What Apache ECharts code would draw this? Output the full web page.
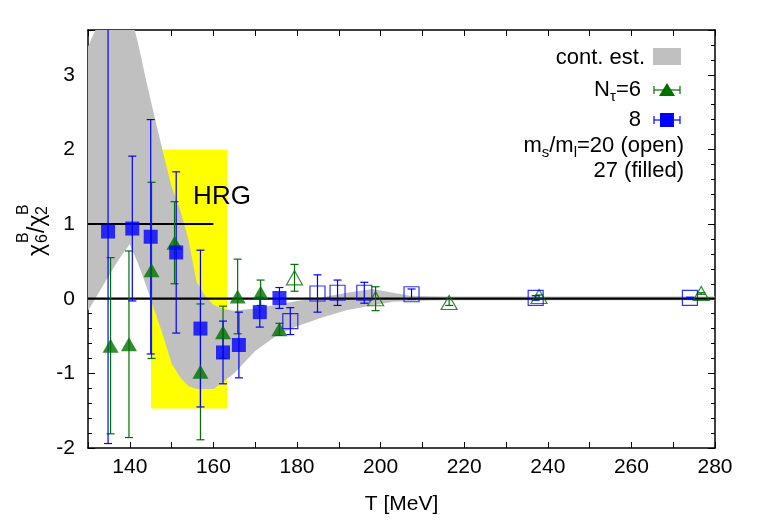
<!DOCTYPE html>
<html>
<head>
<meta charset="utf-8">
<script src="https://cdn.jsdelivr.net/npm/echarts@6/dist/echarts.min.js"></script>
<style>
  html, body { margin: 0; padding: 0; background: #fff; }
  #chart { width: 761px; height: 525px; }
</style>
</head>
<body>
<div id="chart"></div>
<script>
// continuum estimate (grey band)
const bandT    = [130, 133, 136, 138, 140, 142, 144, 146, 148, 150, 152, 154, 156, 158, 160, 162, 165, 170, 175, 180, 186, 192, 198, 203, 207, 215, 280];
const bandHigh = [3.38, 3.75, 4.0, 4.0, 3.85, 3.42, 2.9, 2.42, 1.95, 1.5, 1.2, 0.8, 0.22, 0.04, -0.08, -0.13, -0.16, -0.13, -0.08, -0.03, 0.02, 0.08, 0.13, 0.08, 0.04, 0.03, 0.03];
const bandLow  = [-0.16, 0.12, 0.4, 0.58, 0.73, 0.47, 0.16, -0.17, -0.5, -0.87, -1.05, -1.17, -1.21, -1.21, -1.21, -1.13, -1.0, -0.7, -0.5, -0.37, -0.25, -0.15, -0.09, -0.04, -0.03, -0.02, -0.02];

// N_tau = 6, ms/ml = 27 (filled triangles)
const nt6FilledT   = [135.4, 139.8, 145.2, 150.7, 156.9, 162.3, 165.8, 171.3, 175.8];
const nt6FilledV   = [-0.63, -0.61, 0.38, 0.75, -0.98, -0.45, 0.03, 0.08, -0.41];
const nt6FilledErr = [1.18, 1.25, 1.18, 0.55, 0.91, 0.35, 0.50, 0.17, 0.08];

// N_tau = 8, ms/ml = 27 (filled squares)
const nt8FilledT   = [134.8, 140.6, 145.0, 151.1, 156.9, 162.3, 166.1, 171.1, 175.8];
const nt8FilledV   = [0.90, 0.94, 0.83, 0.62, -0.40, -0.72, -0.62, -0.18, 0.01];
const nt8FilledErr = [2.84, 0.97, 1.57, 1.08, 1.05, 0.42, 0.44, 0.20, 0.14];

// N_tau = 8, ms/ml = 20 (open squares)
const nt8OpenT   = [178.4, 184.9, 189.7, 196.1, 207.4, 237.1, 274.0];
const nt8OpenV   = [-0.30, 0.07, 0.08, 0.08, 0.06, 0.01, 0.01];
const nt8OpenErr = [0.18, 0.25, 0.17, 0.14, 0.07, 0.03, 0.01];

// N_tau = 6, ms/ml = 20 (open triangles)
const nt6OpenT   = [179.4, 198.8, 216.4, 237.9, 276.7];
const nt6OpenV   = [0.28, 0.0, -0.05, 0.03, 0.07];
const nt6OpenErr = [0.18, 0.16, 0.04, 0.02, 0.01];

// HRG box and HRG value
const hrgBoxT = [145.1, 163.3];
const hrgBoxV = [-1.47, 2.0];
const hrgLineT = [130, 160];
const hrgValue = 1;
const zeroLineT = [130, 280];

const FONT = 'Liberation Sans, Arial, sans-serif';
const GREEN = '#007000';
const BLUE = '#0000ff';

const chart = echarts.init(document.getElementById('chart'));

function errorBars(T, V, E, color, z) {
  return {
    type: 'custom',
    clip: true,
    z: z,
    data: T.map((t, i) => [t, V[i] - E[i], V[i] + E[i]]),
    encode: { x: 0, y: [1, 2] },
    renderItem: (params, api) => {
      const lo = api.coord([api.value(0), api.value(1)]);
      const hi = api.coord([api.value(0), api.value(2)]);
      const w = 4;
      const st = { stroke: color, lineWidth: 1.2 };
      return {
        type: 'group',
        children: [
          { type: 'line', shape: { x1: lo[0], y1: lo[1], x2: hi[0], y2: hi[1] }, style: st },
          { type: 'line', shape: { x1: lo[0] - w, y1: lo[1], x2: lo[0] + w, y2: lo[1] }, style: st },
          { type: 'line', shape: { x1: hi[0] - w, y1: hi[1], x2: hi[0] + w, y2: hi[1] }, style: st }
        ]
      };
    }
  };
}

function markers(T, V, symbol, size, color, open, z) {
  return {
    type: 'scatter',
    z: z,
    symbol: symbol,
    symbolSize: size,
    data: T.map((t, i) => [t, V[i]]),
    itemStyle: open
      ? { color: 'rgba(0,0,0,0)', borderColor: color, borderWidth: 1.2 }
      : { color: color },
    emphasis: { disabled: true }
  };
}

const axisLineStyle = { show: true, onZero: false, lineStyle: { color: '#000', width: 1.5 } };
const tickStyle = { lineStyle: { color: '#000', width: 1 } };

const option = {
  animation: false,
  grid: { left: 88, right: 46, top: 30, bottom: 77 },
  xAxis: [
    {
      type: 'value', min: 130, max: 280, interval: 10, position: 'bottom',
      axisLine: axisLineStyle,
      axisTick: Object.assign({ inside: true, length: 6 }, tickStyle),
      axisLabel: {
        formatter: v => (v % 20 === 0 ? String(v) : ''),
        color: '#000', fontSize: 21, fontFamily: FONT, margin: 9
      },
      splitLine: { show: false },
      name: 'T [MeV]', nameLocation: 'middle', nameGap: 46,
      nameTextStyle: { color: '#000', fontSize: 21, fontFamily: FONT }
    },
    {
      type: 'value', min: 130, max: 280, interval: 10, position: 'top',
      axisLine: axisLineStyle,
      axisTick: Object.assign({ inside: true, length: 6 }, tickStyle),
      axisLabel: { show: false },
      splitLine: { show: false }
    }
  ],
  yAxis: [
    {
      type: 'value', min: -2, max: 3.6, interval: 1, position: 'left',
      axisLine: axisLineStyle,
      axisTick: Object.assign({ inside: true, length: 7 }, tickStyle),
      minorTick: { show: true, splitNumber: 5, length: 4, lineStyle: { color: '#000' } },
      axisLabel: {
        formatter: v => (Math.abs(v - Math.round(v)) < 1e-6 ? String(Math.round(v)) : ''),
        color: '#000', fontSize: 21, fontFamily: FONT, margin: 13
      },
      splitLine: { show: false }
    },
    {
      type: 'value', min: -2, max: 3.6, interval: 1, position: 'right',
      axisLine: axisLineStyle,
      axisTick: Object.assign({ inside: true, length: 7 }, tickStyle),
      minorTick: { show: true, splitNumber: 5, length: 4, lineStyle: { color: '#000' } },
      axisLabel: { show: false },
      splitLine: { show: false }
    }
  ],
  series: [
    {
      // HRG range box
      type: 'custom', z: 1, clip: true,
      data: [[hrgBoxT[0], hrgBoxV[0], hrgBoxT[1], hrgBoxV[1]]],
      encode: { x: [0, 2], y: [1, 3] },
      renderItem: (params, api) => {
        const a = api.coord([api.value(0), api.value(3)]);
        const b = api.coord([api.value(2), api.value(1)]);
        return { type: 'rect', shape: { x: a[0], y: a[1], width: b[0] - a[0], height: b[1] - a[1] }, style: { fill: '#ffff00' } };
      }
    },
    {
      // continuum band
      type: 'custom', z: 2, clip: true,
      data: [[bandT[0], 0]],
      renderItem: (params, api) => {
        const pts = [];
        bandT.forEach((t, i) => pts.push(api.coord([t, bandHigh[i]])));
        for (let i = bandT.length - 1; i >= 0; i--) pts.push(api.coord([bandT[i], bandLow[i]]));
        return { type: 'polygon', shape: { points: pts }, style: { fill: '#c0c0c0' } };
      }
    },
    {
      type: 'line', z: 3, symbol: 'none',
      data: zeroLineT.map(t => [t, 0]),
      lineStyle: { color: '#000', width: 2.2 }
    },
    {
      type: 'line', z: 3, symbol: 'none',
      data: hrgLineT.map(t => [t, hrgValue]),
      lineStyle: { color: '#000', width: 2 }
    },
    errorBars(nt6FilledT, nt6FilledV, nt6FilledErr, GREEN, 4),
    errorBars(nt6OpenT, nt6OpenV, nt6OpenErr, GREEN, 4),
    errorBars(nt8FilledT, nt8FilledV, nt8FilledErr, BLUE, 4),
    errorBars(nt8OpenT, nt8OpenV, nt8OpenErr, BLUE, 4),
    markers(nt6FilledT, nt6FilledV, 'triangle', [16, 14], GREEN, false, 5),
    markers(nt6OpenT, nt6OpenV, 'triangle', [16, 14], GREEN, true, 5),
    markers(nt8FilledT, nt8FilledV, 'rect', 14, BLUE, false, 6),
    markers(nt8OpenT, nt8OpenV, 'rect', 15, BLUE, true, 6)
  ],
  graphic: [
    // y axis title: chi_6^B / chi_2^B
    {
      type: 'group', x: 38, y: 228, rotation: Math.PI / 2,
      children: [
        { type: 'text', x: -28, y: 0, style: { text: 'χ', fontSize: 23, fontFamily: FONT, fill: '#000', verticalAlign: 'middle' } },
        { type: 'text', x: -15, y: 5, style: { text: '6', fontSize: 16, fontFamily: FONT, fill: '#000', verticalAlign: 'middle' } },
        { type: 'text', x: -15, y: -14, style: { text: 'B', fontSize: 16, fontFamily: FONT, fill: '#000', verticalAlign: 'middle' } },
        { type: 'text', x: -5, y: 0, style: { text: '/χ', fontSize: 23, fontFamily: FONT, fill: '#000', verticalAlign: 'middle' } },
        { type: 'text', x: 13, y: 5, style: { text: '2', fontSize: 16, fontFamily: FONT, fill: '#000', verticalAlign: 'middle' } },
        { type: 'text', x: 13, y: -14, style: { text: 'B', fontSize: 16, fontFamily: FONT, fill: '#000', verticalAlign: 'middle' } }
      ]
    },
    // HRG label
    { type: 'text', x: 222, y: 197, z: 10, style: { text: 'HRG', fontSize: 26, fontFamily: FONT, fill: '#000', align: 'center', verticalAlign: 'middle' } },
    // legend
    { type: 'text', x: 645, y: 58, style: { text: 'cont. est.', fontSize: 22, fontFamily: FONT, fill: '#000', align: 'right', verticalAlign: 'middle' } },
    { type: 'rect', shape: { x: 653, y: 48, width: 28, height: 17 }, style: { fill: '#c0c0c0' } },
    {
      type: 'text', x: 641, y: 90,
      style: {
        text: '{m|N}{s|τ}{m|=6}', align: 'right', verticalAlign: 'middle', fill: '#000',
        rich: {
          m: { fontSize: 22, fontFamily: FONT, lineHeight: 28 },
          s: { fontSize: 15, fontFamily: FONT, lineHeight: 14, verticalAlign: 'bottom' }
        }
      }
    },
    { type: 'line', shape: { x1: 654, y1: 90, x2: 680, y2: 90 }, style: { stroke: GREEN, lineWidth: 1.2 } },
    { type: 'line', shape: { x1: 654, y1: 86, x2: 654, y2: 94 }, style: { stroke: GREEN, lineWidth: 1.2 } },
    { type: 'line', shape: { x1: 680, y1: 86, x2: 680, y2: 94 }, style: { stroke: GREEN, lineWidth: 1.2 } },
    { type: 'polygon', shape: { points: [[667, 83], [675, 96], [659, 96]] }, style: { fill: GREEN } },
    { type: 'text', x: 641, y: 120, style: { text: '8', fontSize: 22, fontFamily: FONT, fill: '#000', align: 'right', verticalAlign: 'middle' } },
    { type: 'line', shape: { x1: 654, y1: 120, x2: 680, y2: 120 }, style: { stroke: BLUE, lineWidth: 1.2 } },
    { type: 'line', shape: { x1: 654, y1: 116, x2: 654, y2: 124 }, style: { stroke: BLUE, lineWidth: 1.2 } },
    { type: 'line', shape: { x1: 680, y1: 116, x2: 680, y2: 124 }, style: { stroke: BLUE, lineWidth: 1.2 } },
    { type: 'rect', shape: { x: 660, y: 113, width: 14, height: 14 }, style: { fill: BLUE } },
    {
      type: 'text', x: 684, y: 146,
      style: {
        text: '{m|m}{s|s}{m|/m}{s|l}{m|=20 (open)}', align: 'right', verticalAlign: 'middle', fill: '#000',
        rich: {
          m: { fontSize: 22, fontFamily: FONT, lineHeight: 28 },
          s: { fontSize: 15, fontFamily: FONT, lineHeight: 14, verticalAlign: 'bottom' }
        }
      }
    },
    { type: 'text', x: 684, y: 171, style: { text: '27 (filled)', fontSize: 22, fontFamily: FONT, fill: '#000', align: 'right', verticalAlign: 'middle' } }
  ]
};

chart.setOption(option);
</script>
</body>
</html>
